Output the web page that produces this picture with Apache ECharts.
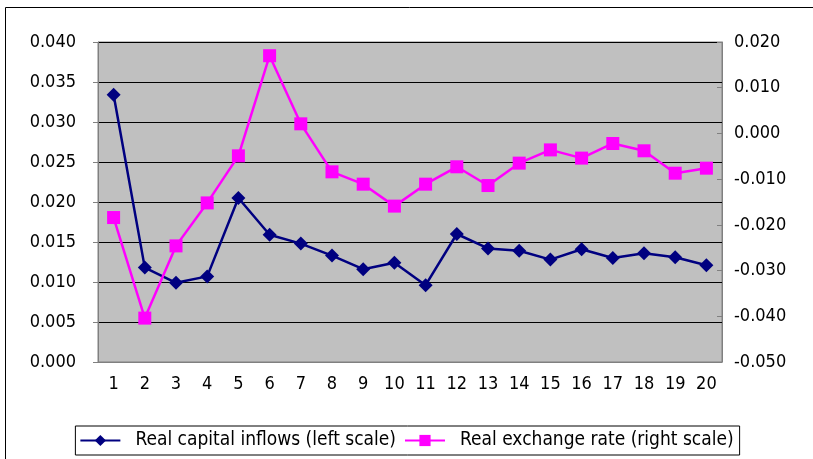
<!DOCTYPE html>
<html>
<head>
<meta charset="utf-8">
<script src="https://cdn.jsdelivr.net/npm/echarts@6/dist/echarts.min.js"></script>
<style>
  html, body { margin: 0; padding: 0; background: #fff; }
  #chart { width: 813px; height: 459px; }
</style>
</head>
<body>
<div id="chart"></div>
<script>
var periods = ['1', '2', '3', '4', '5', '6', '7', '8', '9', '10',
  '11', '12', '13', '14', '15', '16', '17', '18', '19', '20']
var capitalInflows = [0.0334, 0.0118, 0.0099, 0.0107, 0.0205, 0.0159, 0.0148, 0.0133, 0.0116, 0.0124,
  0.0096, 0.0160, 0.0142, 0.0139, 0.0128, 0.0141, 0.0130, 0.0136, 0.0131, 0.0121]
var exchangeRate = [-0.0184, -0.0404, -0.0246, -0.0152, -0.0049, 0.0170, 0.0021, -0.0084, -0.0111, -0.0159,
  -0.0111, -0.0073, -0.0114, -0.0065, -0.0036, -0.0054, -0.0022, -0.0038, -0.0087, -0.0076]
var seriesNames = ['Real capital inflows (left scale)', 'Real exchange rate (right scale)']

var font = '"Liberation Sans Narrow", "DejaVu Sans Condensed", "Liberation Sans", sans-serif'

var chart = echarts.init(document.getElementById('chart'))
chart.setOption({
  animation: false,
  textStyle: { fontFamily: font },
  graphic: [
    {
      type: 'rect',
      shape: { x: 5.5, y: 7.5, width: 900, height: 600 },
      style: { fill: 'none', stroke: '#000', lineWidth: 1 }
    }
  ],
  grid: {
    left: 98,
    right: 91,
    top: 42,
    bottom: 97,
    show: true,
    backgroundColor: '#c0c0c0',
    borderColor: '#808080',
    borderWidth: 1
  },
  legend: {
    bottom: 4,
    left: 'center',
    itemGap: 8,
    itemWidth: 40,
    itemHeight: 14,
    padding: [5, 6, 5, 4],
    borderColor: '#000',
    borderWidth: 1,
    backgroundColor: '#fff',
    textStyle: { fontSize: 19, color: '#000', fontFamily: font, padding: [0, 0, 0, 10] },
    data: seriesNames
  },
  xAxis: {
    type: 'category',
    data: periods,
    boundaryGap: true,
    axisLine: { lineStyle: { color: '#808080' } },
    axisTick: { inside: true, length: 6, lineStyle: { color: '#808080' } },
    axisLabel: { color: '#000', fontSize: 18, margin: 13 }
  },
  yAxis: [
    {
      type: 'value',
      min: 0,
      max: 0.04,
      interval: 0.005,
      axisLine: { show: true, lineStyle: { color: '#808080' } },
      axisTick: { show: true, length: 5, lineStyle: { color: '#808080' } },
      axisLabel: {
        color: '#000',
        fontSize: 18,
        margin: 22,
        formatter: function (v) { return v.toFixed(3) }
      },
      splitLine: { show: true, lineStyle: { color: '#000', width: 1 } }
    },
    {
      type: 'value',
      min: -0.05,
      max: 0.02,
      interval: 0.01,
      axisLine: { show: true, lineStyle: { color: '#808080' } },
      axisTick: { show: true, inside: true, length: 5, lineStyle: { color: '#808080' } },
      axisLabel: {
        color: '#000',
        fontSize: 18,
        margin: 12,
        formatter: function (v) { return v.toFixed(3) }
      },
      splitLine: { show: false }
    }
  ],
  series: [
    {
      name: seriesNames[0],
      type: 'line',
      yAxisIndex: 0,
      data: capitalInflows,
      symbol: 'diamond',
      symbolSize: 14,
      lineStyle: { color: '#000080', width: 2.5 },
      itemStyle: { color: '#000080' }
    },
    {
      name: seriesNames[1],
      type: 'line',
      yAxisIndex: 1,
      data: exchangeRate,
      symbol: 'rect',
      symbolSize: 13,
      lineStyle: { color: '#ff00ff', width: 2.5 },
      itemStyle: { color: '#ff00ff' }
    }
  ]
})
</script>
</body>
</html>
